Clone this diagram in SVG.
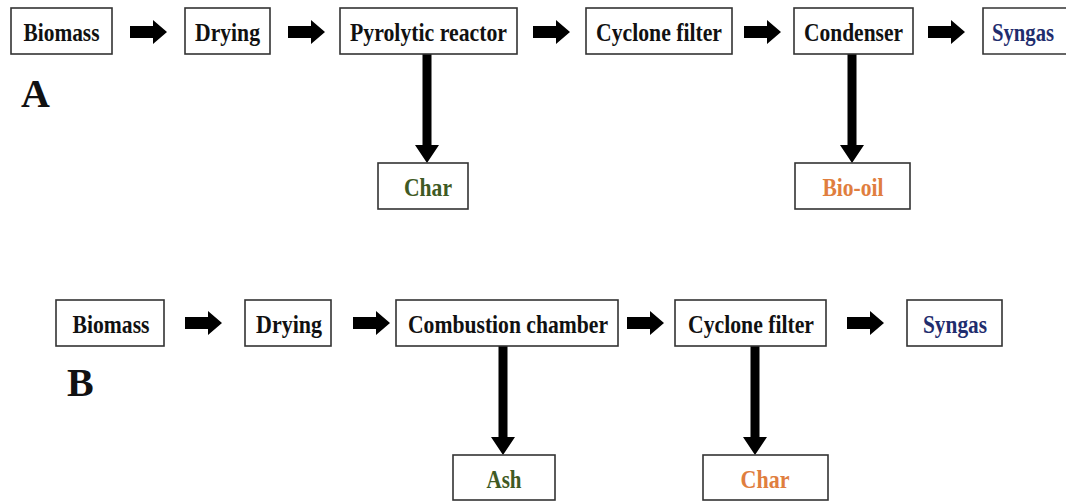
<svg xmlns="http://www.w3.org/2000/svg" width="1066" height="501" viewBox="0 0 1066 501">
<style>
.box{fill:#fff;stroke:#333;stroke-width:1.6}
.t{font-family:"Liberation Serif","Times New Roman",serif;font-weight:bold;font-size:26px;text-anchor:middle;fill:#111}
.lbl{font-family:"Liberation Serif","Times New Roman",serif;font-weight:bold;font-size:40px;fill:#111}
.ar{fill:#000}
.navy{fill:#1f2d6e}
.green{fill:#3f5a24}
.orange{fill:#e07e3e}
</style>
<defs>
<path id="ha" d="M0,-6 H23 V-12 L37,0 L23,12 V6 H0 Z"/>
</defs>
<rect width="1066" height="501" fill="#fff"/>
<g id="connectors" class="ar">
<use href="#ha" x="130" y="32"/>
<use href="#ha" x="288" y="32"/>
<use href="#ha" x="533" y="32"/>
<use href="#ha" x="744" y="32"/>
<use href="#ha" x="928" y="32"/>
<path d="M422.5,54 H431.5 V145 H439 L427,163 L415,145 H422.5 Z"/>
<path d="M847.5,54 H856.5 V145 H864 L852,163 L840,145 H847.5 Z"/>
<use href="#ha" x="185" y="323"/>
<use href="#ha" x="353" y="323"/>
<use href="#ha" x="627" y="323"/>
<use href="#ha" x="847" y="323"/>
<path d="M498.5,346 H507.5 V437 H515 L503,455 L491,437 H498.5 Z"/>
<path d="M750.5,346 H759.5 V437 H767 L755,455 L743,437 H750.5 Z"/>
</g>
<g id="labelA"><text class="lbl" x="21" y="107">A</text></g>
<g id="labelB"><text class="lbl" x="67" y="396">B</text></g>
<g id="a-biomass"><rect class="box" x="11" y="8" width="101" height="46"/><text class="t" x="61.5" y="41" textLength="76" lengthAdjust="spacingAndGlyphs">Biomass</text></g>
<g id="a-drying"><rect class="box" x="185" y="8" width="85" height="46"/><text class="t" x="227.5" y="41" textLength="65" lengthAdjust="spacingAndGlyphs">Drying</text></g>
<g id="a-pyrolytic"><rect class="box" x="340" y="8" width="177" height="46"/><text class="t" x="428.5" y="41" textLength="157" lengthAdjust="spacingAndGlyphs">Pyrolytic reactor</text></g>
<g id="a-cyclone"><rect class="box" x="586" y="8" width="146" height="46"/><text class="t" x="659" y="41" textLength="126" lengthAdjust="spacingAndGlyphs">Cyclone filter</text></g>
<g id="a-condenser"><rect class="box" x="794" y="8" width="119" height="46"/><text class="t" x="853.5" y="41" textLength="99" lengthAdjust="spacingAndGlyphs">Condenser</text></g>
<g id="a-syngas"><path class="box" d="M1066,8 H983 V54 H1066"/><text class="t navy" x="1023" y="41" font-size="24" textLength="62" lengthAdjust="spacingAndGlyphs">Syngas</text></g>
<g id="a-char"><rect class="box" x="378" y="163" width="90" height="46"/><text class="t green" x="428" y="196" textLength="48" lengthAdjust="spacingAndGlyphs">Char</text></g>
<g id="a-biooil"><rect class="box" x="795" y="163" width="115" height="46"/><text class="t orange" x="853" y="196" textLength="61" lengthAdjust="spacingAndGlyphs">Bio-oil</text></g>
<g id="b-biomass"><rect class="box" x="56" y="300" width="108" height="46"/><text class="t" x="111" y="333" textLength="77" lengthAdjust="spacingAndGlyphs">Biomass</text></g>
<g id="b-drying"><rect class="box" x="245" y="300" width="86" height="46"/><text class="t" x="289" y="333" textLength="66" lengthAdjust="spacingAndGlyphs">Drying</text></g>
<g id="b-combustion"><rect class="box" x="396" y="300" width="222" height="46"/><text class="t" x="508" y="333" textLength="200" lengthAdjust="spacingAndGlyphs">Combustion chamber</text></g>
<g id="b-cyclone"><rect class="box" x="675" y="300" width="151" height="46"/><text class="t" x="751" y="333" textLength="126" lengthAdjust="spacingAndGlyphs">Cyclone filter</text></g>
<g id="b-syngas"><rect class="box" x="907" y="300" width="95" height="46"/><text class="t navy" x="955" y="333" textLength="64" lengthAdjust="spacingAndGlyphs">Syngas</text></g>
<g id="b-ash"><rect class="box" x="453" y="455" width="102" height="45"/><text class="t green" x="504" y="488" textLength="35" lengthAdjust="spacingAndGlyphs">Ash</text></g>
<g id="b-char"><rect class="box" x="703" y="455" width="125" height="45"/><text class="t orange" x="765" y="488" textLength="49" lengthAdjust="spacingAndGlyphs">Char</text></g>
</svg>
